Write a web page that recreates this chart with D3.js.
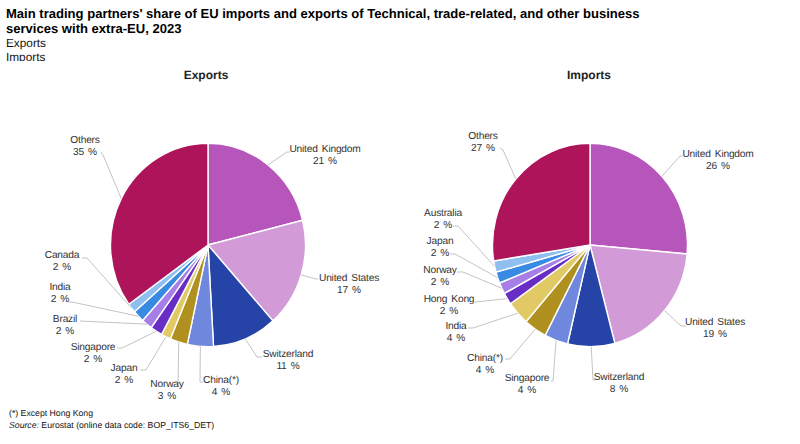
<!DOCTYPE html>
<html><head><meta charset="utf-8">
<script src="https://cdn.jsdelivr.net/npm/d3@7/dist/d3.min.js"></script>
<style>html,body{margin:0;padding:0;background:#fff}svg{display:block}text{font-family:"Liberation Sans",Arial,sans-serif;text-rendering:geometricPrecision}</style>
</head><body><svg id="c" width="800" height="444"></svg>
<script>
const titleLines = ["Main trading partners' share of EU imports and exports of Technical, trade-related, and other business","services with extra-EU, 2023"];
const subtitleLines = ["Exports","Imports"];
const footNote = "(*) Except Hong Kong";

const exportCategories = ["United Kingdom","United States","Switzerland","China(*)","Norway","Japan","Singapore","Brazil","India","Canada","Others"];
const exportValues = [21.1,17.3,10.7,4.3,2.9,1.6,2,1.8,1.9,1.5,34.9];
const exportLabels = ["21 %","17 %","11 %","4 %","3 %","2 %","2 %","2 %","2 %","2 %","35 %"];
const exportColors = ["#b656bb","#d29bd8","#2644a7","#6f88de","#b09120","#e1c965","#672dc4","#a67ee6","#388ae2","#8fbff0","#ad1459"];

const importCategories = ["United Kingdom","United States","Switzerland","Singapore","China(*)","India","Hong Kong","Norway","Japan","Australia","Others"];
const importValues = [26.4,19.5,7.8,3.9,3.8,3.8,1.9,1.8,1.8,1.8,27.5];
const importLabels = ["26 %","19 %","8 %","4 %","4 %","4 %","2 %","2 %","2 %","2 %","27 %"];
const importColors = ["#b656bb","#d29bd8","#2644a7","#6f88de","#b09120","#e1c965","#672dc4","#a67ee6","#388ae2","#8fbff0","#ad1459"];

// label layout: text centre x, first line centre y, leader-line bend points
const exportLayout = [
 {x:325,y:148,bend:[[287,152],[290,152]]},
 {x:349,y:277,bend:[[316,279],[318,279]]},
 {x:288,y:353,bend:[[257,357],[262,357]]},
 {x:221,y:379,bend:[[200,382],[203,382]]},
 {x:167,y:383,bend:[[178,385]]},
 {x:124,y:367,bend:[[146,370],[140,370]]},
 {x:93,y:346,bend:[[122,348],[117,348]]},
 {x:65,y:318,bend:[[80,321]]},
 {x:60,y:286,bend:[[72,302],[69,302]]},
 {x:62,y:254,bend:[[87,258],[82,258]]},
 {x:85,y:139,bend:[[103,155],[101,152]]}
];
const importLayout = [
 {x:718,y:153,bend:[[680,156],[683,156]]},
 {x:715,y:321,bend:[[681,326],[686,326]]},
 {x:619,y:376,bend:[[593,380],[595,380]]},
 {x:527,y:377,bend:[[553,381],[551,381]]},
 {x:485,y:357,bend:[[510,359],[505,359]]},
 {x:456,y:325,bend:[[473,328],[468,328]]},
 {x:449,y:298,bend:[[475,302]]},
 {x:440,y:269,bend:[[463,272],[457,272]]},
 {x:440,y:240,bend:[[455,254],[450,254]]},
 {x:443,y:212,bend:[[458,226],[453,226]]},
 {x:483,y:135,bend:[[503,150],[500,148]]}
];

const svg = d3.select("#c");
svg.append("defs").append("clipPath").attr("id","sub").append("rect").attr("x",0).attr("y",0).attr("width",800).attr("height",61);

svg.selectAll("text.t").data(titleLines).join("text").attr("class","t")
  .attr("x",6).attr("y",(d,i)=>18+i*15).attr("font-size",13.05).attr("font-weight","bold").attr("fill","#000").text(d=>d);
svg.append("g").attr("clip-path","url(#sub)").selectAll("text").data(subtitleLines).join("text")
  .attr("x",6).attr("y",(d,i)=>47+i*13.5).attr("font-size",11.8).attr("fill","#111").text(d=>d);
svg.append("text").attr("x",9).attr("y",416).attr("font-size",8.7).attr("fill","#111").text(footNote);
const src = svg.append("text").attr("x",9).attr("y",428).attr("font-size",8.7).attr("fill","#111");
src.append("tspan").attr("font-style","italic").text("Source:");
src.append("tspan").text(" Eurostat (online data code: BOP_ITS6_DET)");

const rx = 97.5, ry = 101.7;
function drawPie(cx,cy,name,titleX,cats,vals,labs,cols,layout){
  svg.append("text").attr("x",titleX).attr("y",79).attr("text-anchor","middle").attr("font-size",12)
    .attr("font-weight","bold").attr("fill","#222").text(name);
  const g = svg.append("g").attr("transform",`translate(${cx},${cy}) scale(1,${ry/rx})`);
  const arcs = d3.pie().sort(null).value(d=>d)(vals);
  const arc = d3.arc().innerRadius(0).outerRadius(rx);
  g.selectAll("path.s").data(arcs).join("path").attr("class","s").attr("d",arc)
    .attr("fill",(d,i)=>cols[i]).attr("stroke","#fff").attr("stroke-width",1.4);
  const line = d3.line();
  svg.selectAll(null).data(arcs).join("path")
    .attr("d",(d,i)=>{
      const a=(d.startAngle+d.endAngle)/2;
      const start=[cx+rx*Math.sin(a),cy-ry*Math.cos(a)];
      return line([start,...layout[i].bend]);
    }).attr("fill","none").attr("stroke","#c4c4c4").attr("stroke-width",1);
  const t = svg.selectAll(null).data(arcs).join("text").attr("text-anchor","middle").attr("font-size",10.2).attr("fill","#333").style("letter-spacing","-0.2px");
  t.append("tspan").attr("x",(d,i)=>layout[i].x).attr("y",(d,i)=>layout[i].y+3.5).style("word-spacing","1.5px").text((d,i)=>cats[i]);
  t.append("tspan").attr("x",(d,i)=>layout[i].x).attr("y",(d,i)=>layout[i].y+15.5).style("word-spacing","1.5px").text((d,i)=>labs[i]);
}
drawPie(208,245,"Exports",206,exportCategories,exportValues,exportLabels,exportColors,exportLayout);
drawPie(590,245,"Imports",589,importCategories,importValues,importLabels,importColors,importLayout);
</script></body></html>
